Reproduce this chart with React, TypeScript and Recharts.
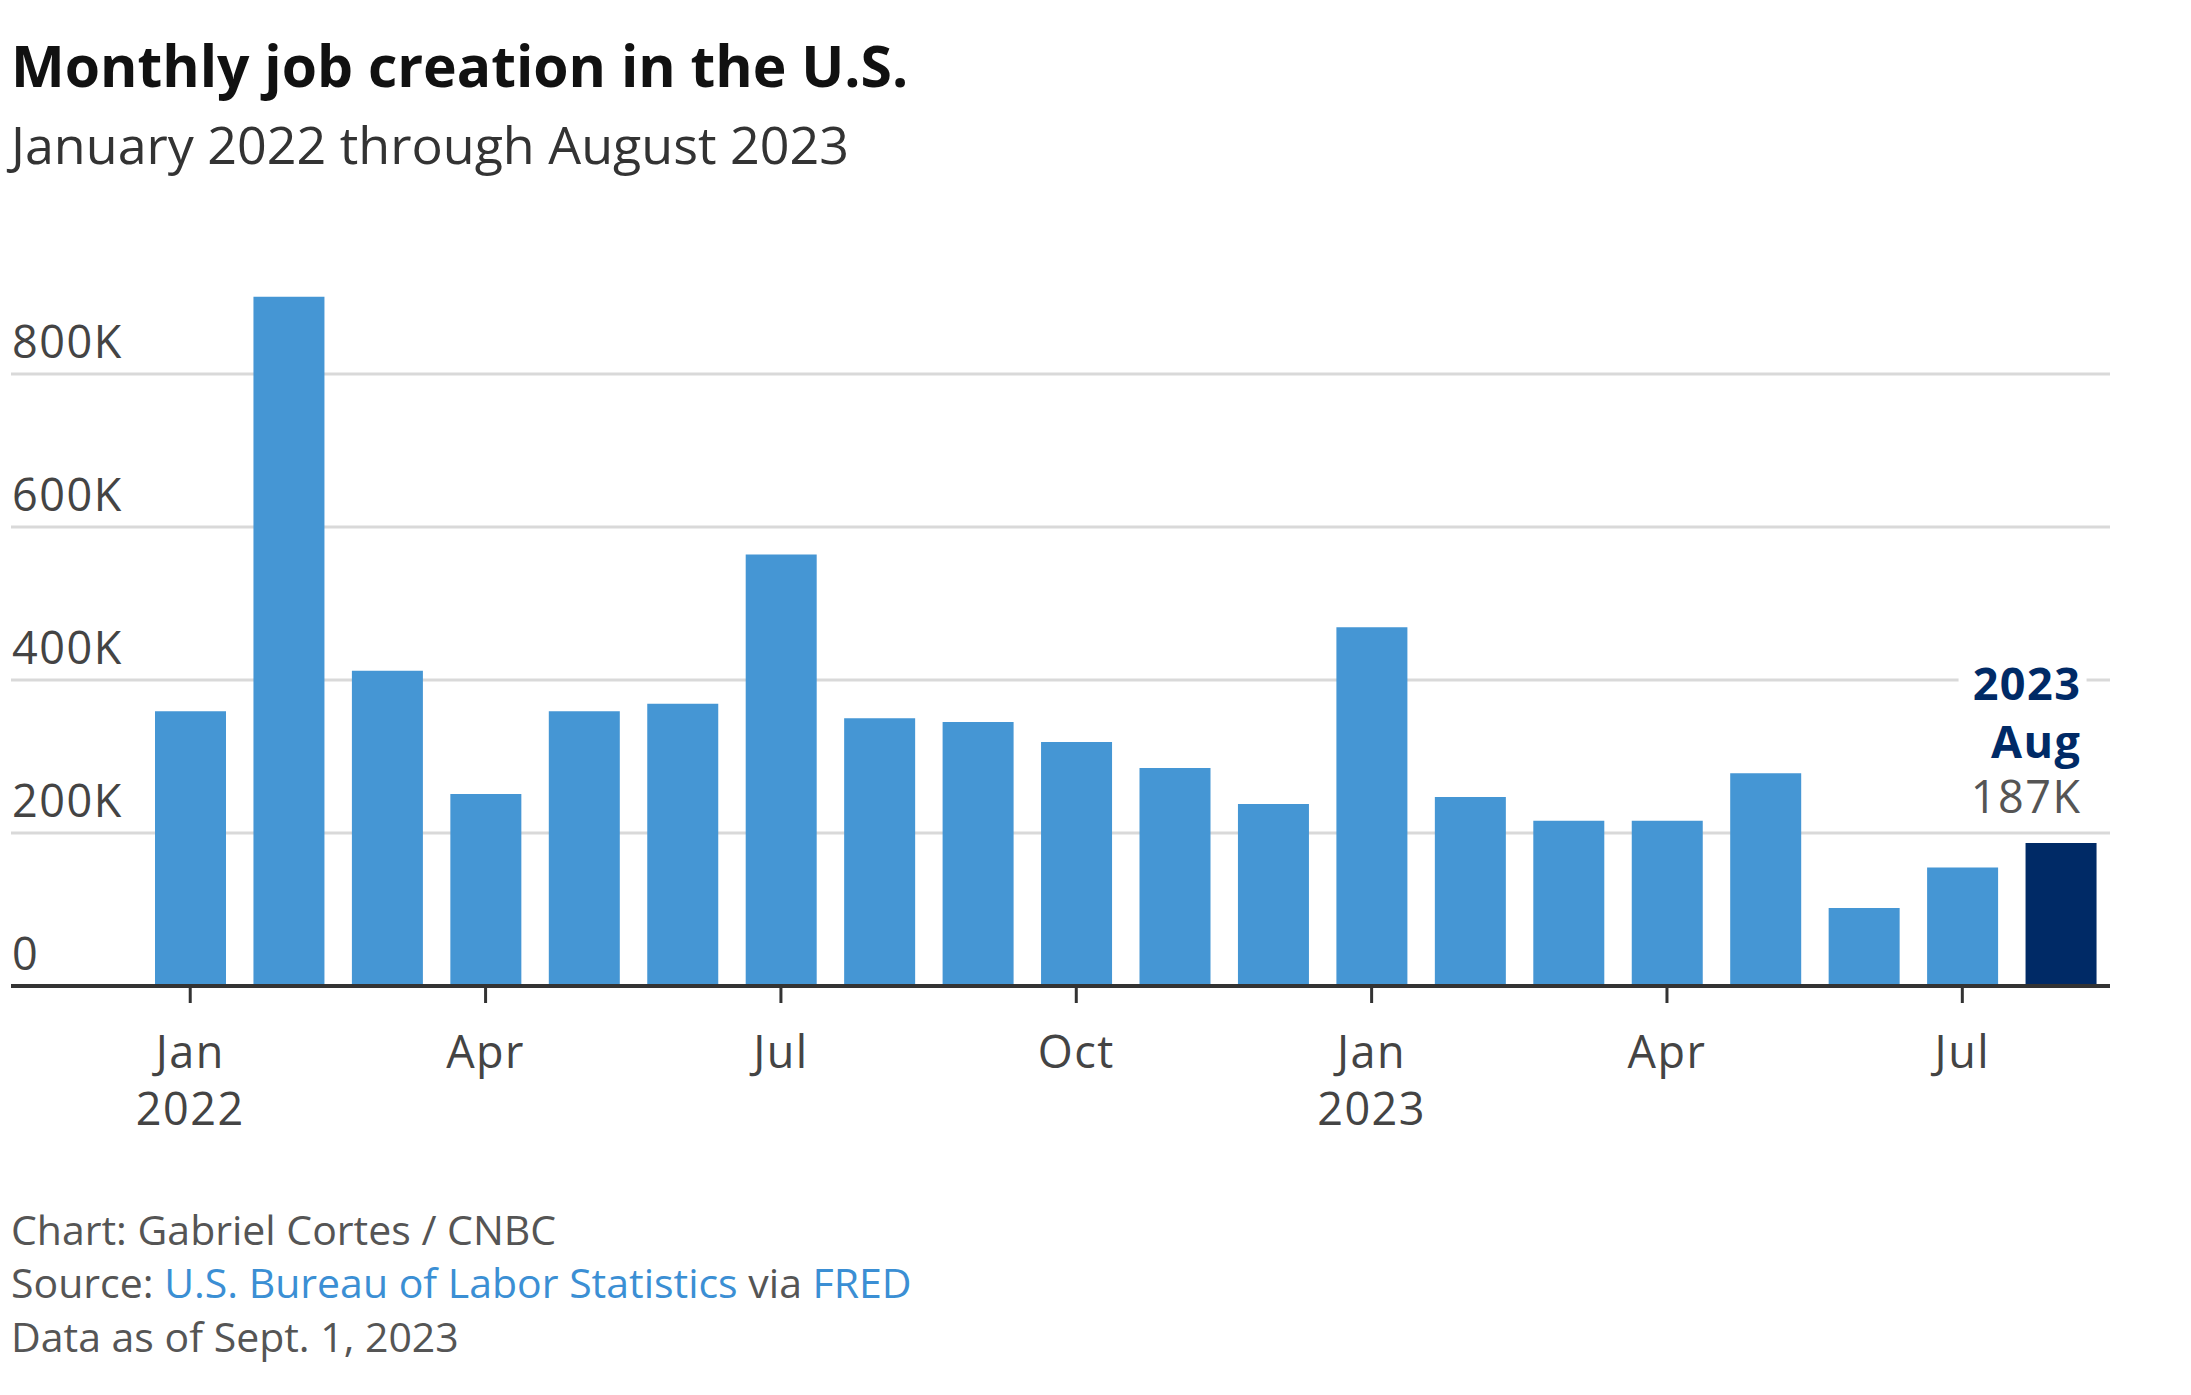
import { BarChart, Bar, XAxis, YAxis, CartesianGrid, Cell } from 'recharts';

// monthly payroll change, thousands of jobs
const months = [
  '2022-01', '2022-02', '2022-03', '2022-04', '2022-05', '2022-06', '2022-07',
  '2022-08', '2022-09', '2022-10', '2022-11', '2022-12',
  '2023-01', '2023-02', '2023-03', '2023-04', '2023-05', '2023-06', '2023-07', '2023-08',
];
const jobsK = [359, 901, 412, 251, 359, 369, 564, 350, 345, 319, 285, 238, 469, 247, 216, 216, 278, 102, 155, 187];
const yTicks = [0, 200, 400, 600, 800];
const yMax = 1000;
const monthNames = ['Jan', 'Feb', 'Mar', 'Apr', 'May', 'Jun', 'Jul', 'Aug', 'Sep', 'Oct', 'Nov', 'Dec'];

const data = months.map((m, i) => ({ month: m, jobs: jobsK[i] }));
const last = data.length - 1;

const FONT = '"Open Sans", "Noto Sans", sans-serif';
const LIGHT = '#4596d4';
const NAVY = '#002a66';
const TICK_STYLE = { fontSize: 45, letterSpacing: 1.5, fill: '#444', fontFamily: FONT };

const MonthTick = ({ x, y, payload }: any) => {
  const [yr, mo] = String(payload.value).split('-');
  return (
    <g>
      <text x={x} y={y + 63} textAnchor="middle" {...TICK_STYLE}>
        {monthNames[Number(mo) - 1]}
      </text>
      {mo === '01' && (
        <text x={x} y={y + 120} textAnchor="middle" {...TICK_STYLE}>
          {yr}
        </text>
      )}
    </g>
  );
};

const ValueTick = ({ y, payload }: any) => (
  <text x={12} y={y - 16} textAnchor="start" {...TICK_STYLE}>
    {payload.value === 0 ? '0' : `${payload.value}K`}
  </text>
);

const LatestLabel = ({ x, y, width, index, value }: any) => {
  if (index !== last) return null;
  const right = x + width - 15;
  const [yr, mo] = months[last].split('-');
  return (
    <g fontFamily={FONT} textAnchor="end" fontSize={45} letterSpacing={1.5}>
      <rect x={right - 123} y={y - 180} width={128} height={46} fill="#fff" />
      <text x={right} y={y - 143} fontWeight={700} fill={NAVY}>{yr}</text>
      <text x={right} y={y - 85} fontWeight={700} fill={NAVY}>{monthNames[Number(mo) - 1]}</text>
      <text x={right} y={y - 30} fill="#555">{`${value}K`}</text>
    </g>
  );
};

// only draw grid rows at the labelled ticks (no line at the top of the domain)
const gridRows = ({ offset }: any) =>
  yTicks.map((v) => offset.top + offset.height * (1 - v / yMax));

const App = () => {
  return (
    <div style={{ position: 'absolute', left: 0, top: 0, width: 2191, height: 1395, background: '#fff' }}>
      <svg width={2191} height={200} style={{ position: 'absolute', left: 0, top: 0 }}>
        <text x={11} y={87} fontSize={57} fontWeight={700} fill="#111" fontFamily={FONT}>
          Monthly job creation in the U.S.
        </text>
        <text x={11} y={164} fontSize={52} fill="#333" fontFamily={FONT}>
          January 2022 through August 2023
        </text>
      </svg>

      <div style={{ position: 'absolute', left: 0, top: 0 }}>
        <BarChart width={2191} height={1140} data={data} margin={{ top: 221, right: 81, left: 10, bottom: 0 }}>
          <CartesianGrid
            vertical={false}
            stroke="#d9d9d9"
            strokeWidth={3}
            horizontalCoordinatesGenerator={gridRows}
          />
          <XAxis
            dataKey="month"
            interval={2}
            height={154}
            padding={{ left: 130, right: 0 }}
            axisLine={{ stroke: '#333', strokeWidth: 4 }}
            tickLine={{ stroke: '#333', strokeWidth: 3 }}
            tickSize={17}
            tick={<MonthTick />}
          />
          <YAxis
            width={1}
            domain={[0, yMax]}
            ticks={yTicks}
            axisLine={false}
            tickLine={false}
            tick={<ValueTick />}
          />
          <Bar dataKey="jobs" barSize={71} isAnimationActive={false} label={<LatestLabel />}>
            {data.map((d, i) => (
              <Cell key={d.month} fill={i === last ? NAVY : LIGHT} />
            ))}
          </Bar>
        </BarChart>
      </div>

      <svg width={2191} height={260} style={{ position: 'absolute', left: 0, top: 1135 }}>
        <g fontSize={41} fill="#555" fontFamily={FONT}>
          <text x={11} y={110}>Chart: Gabriel Cortes / CNBC</text>
          <text x={11} y={163}>
            Source: <tspan fill="#3b8fd4">U.S. Bureau of Labor Statistics</tspan> via{' '}
            <tspan fill="#3b8fd4">FRED</tspan>
          </text>
          <text x={11} y={217}>Data as of Sept. 1, 2023</text>
        </g>
      </svg>
    </div>
  );
};

export default App;
